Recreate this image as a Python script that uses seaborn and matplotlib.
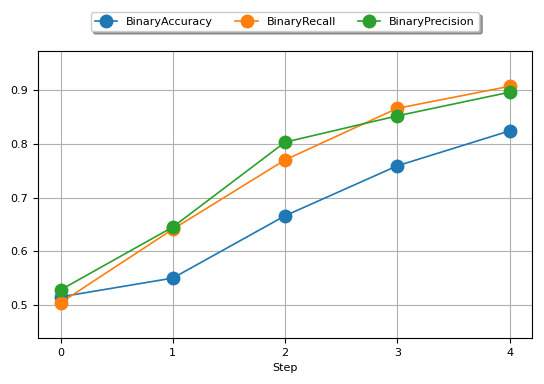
"""Binary metrics over training steps."""

import matplotlib

matplotlib.use("Agg")
import matplotlib.pyplot as plt
import pandas as pd
import seaborn as sns

steps = [0, 1, 2, 3, 4]
binary_accuracy = [0.515, 0.550, 0.666, 0.759, 0.824]
binary_recall = [0.504, 0.641, 0.770, 0.866, 0.907]
binary_precision = [0.528, 0.645, 0.803, 0.852, 0.896]
metric_names = ["BinaryAccuracy", "BinaryRecall", "BinaryPrecision"]

# Long format for seaborn
frames = []
for name, values in zip(metric_names, [binary_accuracy, binary_recall, binary_precision]):
    frames.append(pd.DataFrame({"Step": steps, "value": values, "metric": name}))
df = pd.concat(frames, ignore_index=True)

plt.rcParams["font.size"] = 8
fig, ax = plt.subplots(figsize=(5.44, 3.84), dpi=100)

sns.lineplot(
    data=df,
    x="Step",
    y="value",
    hue="metric",
    hue_order=metric_names,
    palette=["#1f77b4", "#ff7f0e", "#2ca02c"],
    marker="o",
    markersize=10,
    markeredgewidth=0,
    linewidth=1.2,
    ax=ax,
)

ax.grid(True, color="#b0b0b0", linewidth=0.8)
ax.set_ylim(0.4386, 0.9726)
ax.set_xlim(-0.2, 4.2)
ax.set_xticks(steps)
ax.set_ylabel("")
ax.set_xlabel("Step")

ax.legend(
    loc="lower center",
    bbox_to_anchor=(0.5, 1.05),
    ncol=3,
    shadow=True,
    fancybox=True,
    title=None,
)

fig.subplots_adjust(left=0.07, right=0.978, top=0.867, bottom=0.12)
fig.savefig("out.png", dpi=100)
